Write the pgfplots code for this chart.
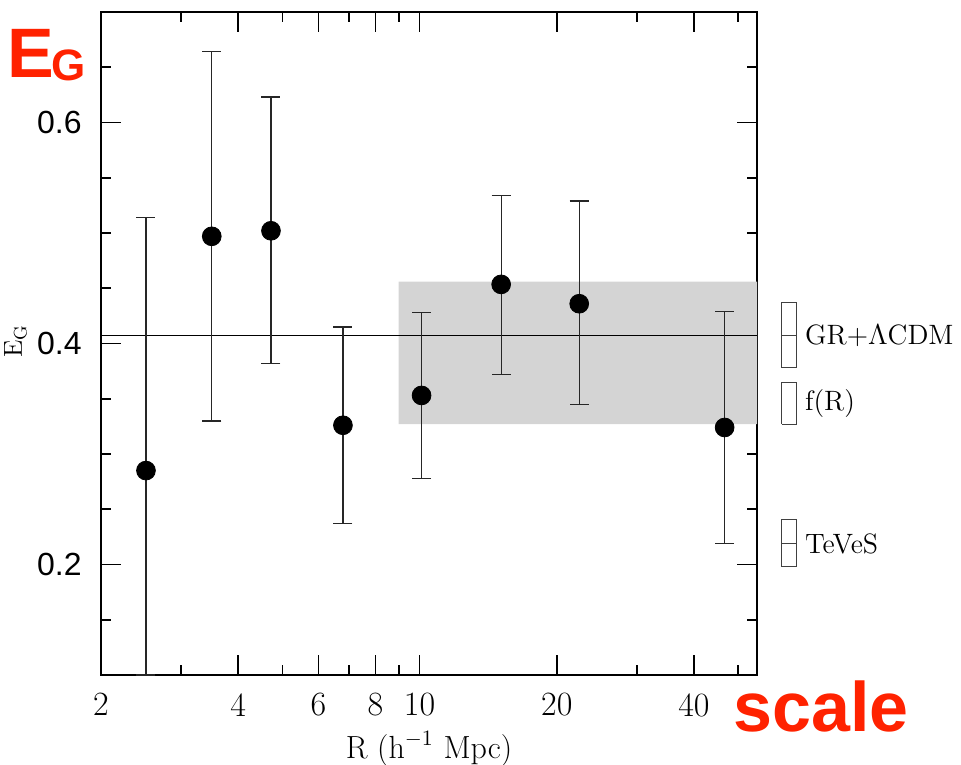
\documentclass[border=0pt]{standalone}
\usepackage{fontspec}
\usepackage{pgfplots}
\pgfplotsset{compat=1.18}
\newfontfamily\arial{Liberation Sans}
\definecolor{hired}{RGB}{255,34,0}
\definecolor{band}{gray}{0.83}

\pgfplotstableread{
x     y      ep     em
2.51  0.285  0.229  0.185
3.50  0.497  0.167  0.167
4.72  0.502  0.121  0.120
6.79  0.326  0.089  0.089
10.1  0.353  0.075  0.075
15.1  0.4535 0.0805 0.0815
22.4  0.436  0.093  0.091
46.7  0.324  0.105  0.105
}\egdata

\begin{document}
\begin{tikzpicture}
\begin{axis}[
    scale only axis, width=328pt, height=331.5pt,
    xmode=log, xmin=2, xmax=55, ymin=0.1, ymax=0.7,
    axis line style={line width=1pt},
    tick align=inside, major tick length=10pt, minor tick length=5pt,
    every tick/.style={black, line width=0.8pt},
    xtick={2,4,6,8,10,20,40}, xticklabels={2,4,6,8,10,20,40},
    minor xtick={3,5,7,9,30,50},
    ytick={0.2,0.4,0.6}, yticklabels={0.2,0.4,0.6},
    minor ytick={0.15,0.25,0.3,0.35,0.45,0.5,0.55,0.65},
    xticklabel style={font=\fontsize{17}{17}\selectfont, anchor=north, inner sep=0pt, yshift=-9pt},
    yticklabel style={font=\arial\fontsize{16}{16}\selectfont, anchor=east, inner sep=0pt, xshift=-9.5pt},
    xlabel={R (h$^{-1}$ Mpc)},
    xlabel style={at={(axis description cs:0.5,0)}, anchor=base, inner sep=0pt, yshift=-41.5pt, font=\fontsize{16}{16}\selectfont},
    clip=false,
]
% shaded band
\addplot[fill=band, draw=none] coordinates {(9.0,0.327) (55,0.327) (55,0.456) (9.0,0.456) (9.0,0.327)};
% GR line
\addplot[black, line width=0.6pt] coordinates {(2,0.407) (55,0.407)};
% measurements
\addplot[only marks, mark=*, mark size=4.7pt, black,
    error bars/.cd, y dir=both, y explicit,
    error bar style={line width=0.65pt, black!85},
    error mark options={rotate=90, mark size=4.75pt, line width=0.65pt, black!85}]
    table[x=x, y=y, y error plus=ep, y error minus=em] {\egdata};
% model boxes
\addplot[black!75, line width=0.6pt] coordinates {(62.3,0.378) (67.1,0.378) (67.1,0.437) (62.3,0.437) (62.3,0.378)};
\addplot[black!75, line width=0.6pt] coordinates {(62.3,0.407) (67.1,0.407)};
\addplot[black!75, line width=0.6pt] coordinates {(62.3,0.327) (67.1,0.327) (67.1,0.365) (62.3,0.365) (62.3,0.327)};
\addplot[black!75, line width=0.6pt] coordinates {(62.3,0.198) (67.1,0.198) (67.1,0.241) (62.3,0.241) (62.3,0.198)};
\addplot[black!75, line width=0.6pt] coordinates {(62.3,0.219) (67.1,0.219)};
\node[anchor=west, inner sep=0pt, font=\fontsize{14}{14}\selectfont] at (axis cs:70,0.407) {GR+$\Lambda$CDM};
\node[anchor=west, inner sep=0pt, font=\fontsize{14}{14}\selectfont] at (axis cs:70,0.346) {f(R)};
\node[anchor=west, inner sep=0pt, font=\fontsize{14}{14}\selectfont] at (axis cs:70,0.219) {TeVeS};
\end{axis}
\node[anchor=base west, inner sep=0pt, text=hired, font=\arial\bfseries\fontsize{35}{35}\selectfont] at (-47pt,298.5pt) {E};
\node[anchor=base west, inner sep=0pt, text=hired, font=\arial\bfseries\fontsize{22}{22}\selectfont] at (-25pt,297pt) {G};
\node[anchor=base west, inner sep=0pt, text=hired, font=\arial\bfseries\fontsize{35}{35}\selectfont] at (316pt,-28pt) {scale};
\node[rotate=90, anchor=base west, inner sep=0pt, font=\fontsize{13}{13}\selectfont] at (-39.5pt,158.5pt) {E$_{\mathrm{G}}$};
\pgfresetboundingbox
\useasboundingbox (-50.5pt,-44.5pt) rectangle (430pt,337.5pt);
\end{tikzpicture}
\end{document}
